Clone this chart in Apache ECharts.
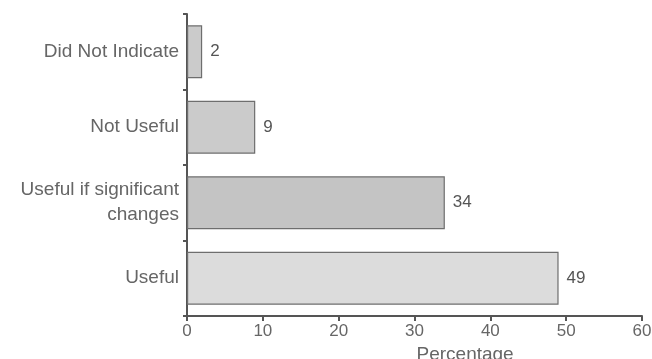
<!DOCTYPE html>
<html><head><meta charset="utf-8">
<script src="https://cdn.jsdelivr.net/npm/echarts@6/dist/echarts.min.js"></script>
<style>html,body{margin:0;padding:0;background:#fff}#c{width:652px;height:359px}</style>
</head><body><div id="c"></div>
<script>
const categories = ['Useful', 'Useful if significant\nchanges', 'Not Useful', 'Did Not Indicate'];
const values = [49, 34, 9, 2];
const xTicks = [0, 10, 20, 30, 40, 50, 60];
const barColors = ['#dcdcdc', '#c4c4c4', '#cbcbcb', '#cbcbcb'];
const FONT = 'Liberation Sans, Arial, sans-serif';
const chart = echarts.init(document.getElementById('c'));
chart.setOption({
  backgroundColor: '#fff',
  animation: false,
  grid: {left: 187, right: 10, top: 14, bottom: 43, containLabel: false, outerBoundsMode: 'none'},
  xAxis: {
    type: 'value', min: xTicks[0], max: xTicks[xTicks.length-1], interval: 10,
    name: 'Percentage', nameLocation: 'middle', nameGap: 26,
    nameTextStyle: {color: '#666', fontSize: 19, fontFamily: FONT, verticalAlign: 'top', align: 'left', padding: [0, 0, 0, 2]},
    axisLine: {show: true, lineStyle: {color: '#555', width: 2}},
    axisTick: {show: true, length: 5, inside: false, lineStyle: {color: '#555', width: 2}},
    axisLabel: {color: '#666', fontSize: 17, margin: 7, fontFamily: FONT},
    splitLine: {show: false}
  },
  yAxis: {
    type: 'category', data: categories,
    axisLine: {show: true, lineStyle: {color: '#555', width: 2}},
    axisTick: {show: true, length: 4, lineStyle: {color: '#555', width: 2}},
    axisLabel: {color: '#666', fontSize: 19, margin: 8, align: 'right', lineHeight: 25, fontFamily: FONT}
  },
  series: [{
    type: 'bar',
    data: values.map((v, i) => ({value: v, itemStyle: {color: barColors[i]}})),
    barCategoryGap: '30%',
    itemStyle: {borderColor: '#6e6e6e', borderWidth: 1.2},
    label: {show: true, position: 'right', distance: 8, color: '#555', fontSize: 17, fontFamily: FONT}
  }]
});
</script></body></html>
